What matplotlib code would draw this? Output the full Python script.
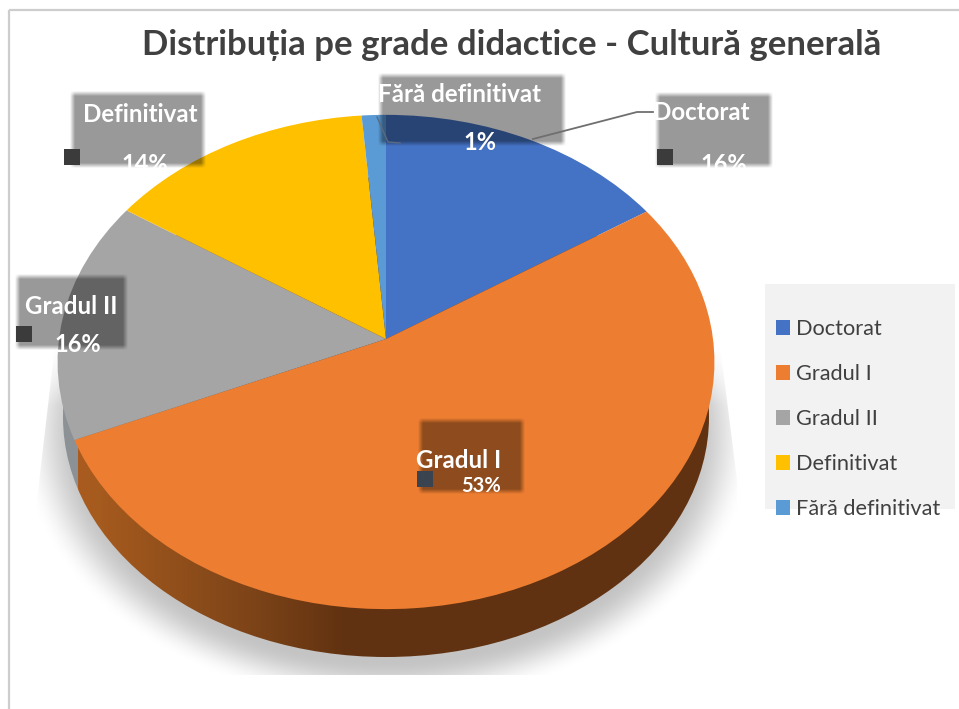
import numpy as np
import matplotlib
matplotlib.use("Agg")
import matplotlib.pyplot as plt
from matplotlib.patches import Rectangle, Ellipse, Polygon
from matplotlib.transforms import Transform

categories = ["Doctorat", "Gradul I", "Gradul II", "Definitivat", "Fără definitivat"]
values = [15.8, 52.7, 15.8, 14.4, 1.3]
colors = ["#4472C4", "#ED7D31", "#A5A5A5", "#FFC000", "#5B9BD5"]
title = "Distribuția pe grade didactice - Cultură generală"

FONT = ["Lato", "DejaVu Sans"]
plt.rcParams["font.family"] = FONT

W, H = 959, 709
fig = plt.figure(figsize=(W / 100, H / 100), dpi=100, facecolor="white")
ax = fig.add_axes([0, 0, 1, 1])


class Perspective(Transform):
    """Tilted-disc projection of the unit pie onto pixel coordinates."""
    input_dims = 2
    output_dims = 2
    is_separable = False
    has_inverse = False
    cx, cy, A, B, k = 386.0, 339.0, 245.0, 327.0, 0.093

    def transform_non_affine(self, values):
        v = np.asarray(values, dtype=float)
        w = 1 + self.k * v[:, 1]
        return np.column_stack([self.cx + self.B * v[:, 0] / w,
                                self.cy - self.A * v[:, 1] / w])


wedges, _ = ax.pie(values, colors=colors, startangle=90, counterclock=False,
                   wedgeprops=dict(linewidth=0))
persp = Perspective() + ax.transData
for w_ in wedges:
    w_.set_transform(persp)
    w_.set_zorder(3)

ax.set_aspect("auto")
ax.set_autoscale_on(False)
ax.set_xlim(0, W)
ax.set_ylim(H, 0)
ax.axis("off")


# ---- shadow ----
yy, xx = np.mgrid[340:690, 30:745]
r = np.sqrt(((xx - 386) / 353.0) ** 2 + ((yy - 434) / 260.0) ** 2)
t = np.clip((1.04 - r) / 0.17, 0, 1)
t = t * t * (3 - 2 * t)
t = t * np.clip((yy - 345) / 60.0, 0, 1)
sh = np.zeros(r.shape + (4,))
sh[..., :3] = 0.77
sh[..., 3] = t
im = ax.imshow(sh, extent=(30, 745, 690, 340), aspect="auto", zorder=1, interpolation="bilinear")
trap = Polygon([(55, 345), (37, 500), (37, 675), (737, 675), (737, 480), (720, 345)],
               transform=ax.transData)
im.set_clip_path(trap)

# ---- side wall ----
xs = np.arange(50, 725)
stops_x = [78, 100, 250, 345, 725]
stops_c = np.array([[170, 92, 32], [165, 90, 30], [125, 68, 24], [97, 50, 17], [97, 50, 17]]) / 255
wall = np.column_stack([np.interp(xs, stops_x, stops_c[:, i]) for i in range(3)])
wall[xs < 78] = np.array([140, 145, 150]) / 255
wim = ax.imshow(wall[None, :, :], extent=(50, 725, 670, 170), aspect="auto", zorder=2,
                interpolation="nearest")
wim.set_clip_path(Ellipse((386, 417), 646, 480, transform=ax.transData))


# ---- label boxes ----
def soft_box(x0, y0, x1, y1, alpha=0.4, blur=5.0):
    pad = 8
    ys, xs_ = np.mgrid[y0 - pad:y1 + pad, x0 - pad:x1 + pad]
    ax_ = np.clip((xs_ - x0) / blur + 0.5, 0, 1) * np.clip((x1 - xs_) / blur + 0.5, 0, 1)
    ay_ = np.clip((ys - y0) / blur + 0.5, 0, 1) * np.clip((y1 - ys) / blur + 0.5, 0, 1)
    a = np.zeros(ax_.shape + (4,))
    a[..., 3] = alpha * ax_ * ay_
    ax.imshow(a, extent=(x0 - pad, x1 + pad, y1 + pad, y0 - pad), aspect="auto", zorder=4,
              interpolation="bilinear")


boxes = [(657, 94, 770, 165), (420, 420, 522, 491), (17, 276, 125, 347),
         (72, 93, 203, 165), (380, 75, 563, 143)]
for b in boxes:
    soft_box(*b)

markers = [(657, 149, "#3b3b3b"), (417, 471, "#3a4450"), (16, 326, "#3b3b3b"), (64, 149, "#3b3b3b")]
for mx, my, mc in markers:
    ax.add_patch(Rectangle((mx, my), 15.5, 15.5, fc=mc, ec="none", zorder=5))

# ---- leader lines ----
ax.plot([653, 637, 533], [112, 112, 139], color="#6f6f6f", lw=1.3, zorder=5)
ax.plot([377, 388, 400], [117, 142, 143], color="#5a6a80", lw=1.0, zorder=5)

# ---- data labels ----
name_pos = [(701.5, 113), (459, 461), (71, 307), (140, 114), (459, 94)]
pct_pos = [(724, 165), (481, 486), (78, 344), (145, 165), (480, 143)]
pct_size = [17, 14.5, 17, 17, 17]
for c, v, np_, pp, ps in zip(categories, values, name_pos, pct_pos, pct_size):
    ax.text(*np_, c, color="white", fontsize=17.4, fontweight="bold", ha="center", va="center", zorder=6)
    ax.text(*pp, f"{round(v)}%", color="white", fontsize=ps, fontweight="bold", ha="center", va="center", zorder=6)

# ---- title ----
ax.text(512, 45, title, color="#404040", fontsize=25, fontweight="bold", ha="center", va="center", zorder=6)

# ---- legend ----
ax.add_patch(Rectangle((765, 284), 190, 225, fc="#F2F2F2", ec="none", zorder=1))
leg = ax.legend(wedges, categories, loc="upper left", bbox_to_anchor=(776, 319),
                bbox_transform=ax.transData, frameon=False, fontsize=15.7,
                handlelength=0.64, handleheight=0.64, handletextpad=0.27,
                labelspacing=1.15, borderpad=0, borderaxespad=0, labelcolor="#404040")
leg.set_zorder(5)

# ---- frame lines ----
ax.plot([9, 9], [10, H], color="#CDCDCD", lw=1.6, zorder=7, solid_capstyle="butt")
ax.plot([9, W], [10, 10], color="#CDCDCD", lw=1.6, zorder=7, solid_capstyle="butt")

ax.set_xlim(0, W)
ax.set_ylim(H, 0)
fig.savefig("out.png", dpi=100, facecolor="white")
